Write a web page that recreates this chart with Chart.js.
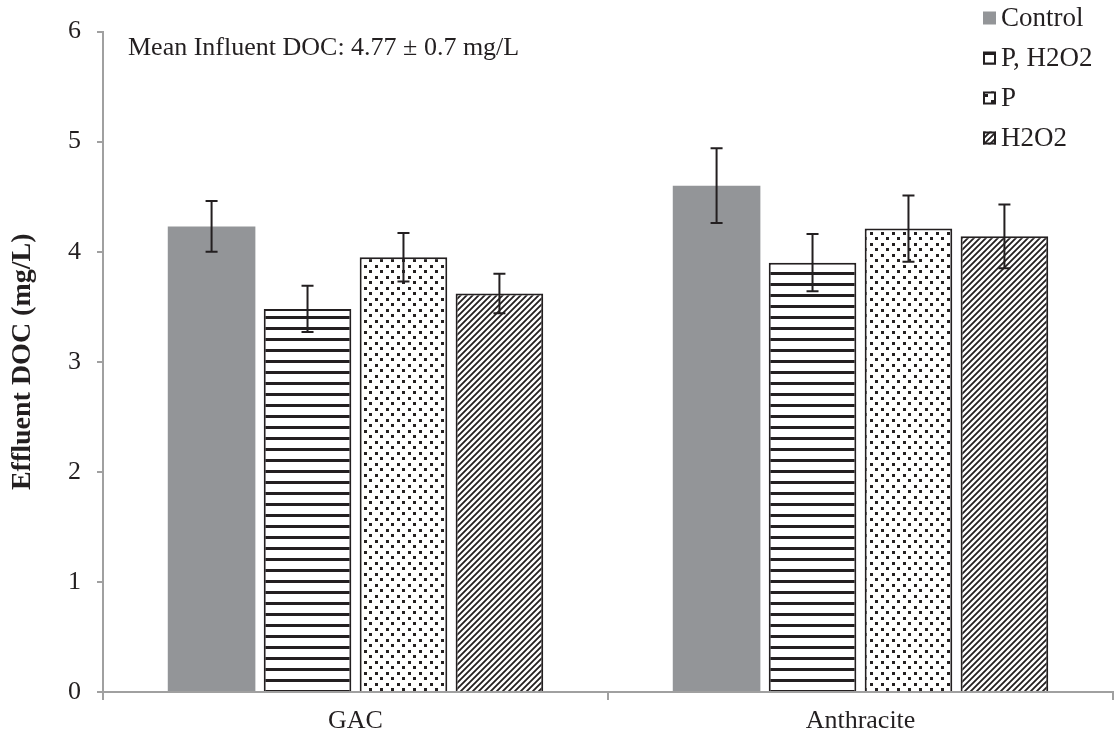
<!DOCTYPE html>
<html>
<head>
<meta charset="utf-8">
<script src="https://cdn.jsdelivr.net/npm/chart.js@4.4.1/dist/chart.umd.min.js"></script>
<style>
  body { margin: 0; background: #fff; }
</style>
</head>
<body>
<canvas id="docChart" width="1114" height="738"></canvas>
<script>
// data
const categories = ['GAC', 'Anthracite'];
const seriesNames = ['Control', 'P, H2O2', 'P', 'H2O2'];
const controlMean = [4.23, 4.60];
const controlErr = [0.23, 0.34];
const pH2o2Mean = [3.48, 3.90];
const pH2o2Err = [0.21, 0.26];
const pMean = [3.95, 4.21];
const pErr = [0.22, 0.30];
const h2o2Mean = [3.62, 4.14];
const h2o2Err = [0.18, 0.29];
const yTicks = [0, 1, 2, 3, 4, 5, 6];
const noteText = 'Mean Influent DOC: 4.77 \u00b1 0.7 mg/L';
const yTitle = 'Effluent DOC (mg/L)';

const ink = '#231f20';
const axisGrey = '#a0a0a0';
const serif = '"Liberation Serif", "Times New Roman", serif';

Chart.defaults.font.family = serif;
Chart.defaults.font.size = 26;
Chart.defaults.color = ink;

// fill patterns for the hatched bars
function makePattern(kind) {
    const c = document.createElement('canvas');
    const g = c.getContext('2d');
    if (kind === 'stripes') {
        c.width = 8; c.height = 11;
        g.fillStyle = '#fff'; g.fillRect(0, 0, 8, 11);
        g.fillStyle = ink; g.fillRect(0, 8, 8, 3);
    } else if (kind === 'dots') {
        c.width = 11; c.height = 11;
        g.fillStyle = '#fff'; g.fillRect(0, 0, 11, 11);
        g.fillStyle = ink;
        g.fillRect(1, 1, 3, 3);
        g.fillRect(6, 6, 3, 3);
    } else {
        c.width = 6; c.height = 6;
        g.fillStyle = '#fff'; g.fillRect(0, 0, 6, 6);
        g.strokeStyle = ink; g.lineWidth = 1.8;
        g.beginPath();
        g.moveTo(-1, 7); g.lineTo(7, -1);
        g.moveTo(-4, 4); g.lineTo(4, -4);
        g.moveTo(2, 10); g.lineTo(10, 2);
        g.stroke();
    }
    return g.createPattern(c, 'repeat');
}

const errors = [controlErr, pH2o2Err, pErr, h2o2Err];

const errorBars = {
    id: 'errorBars',
    afterDatasetsDraw(chart) {
        const ctx = chart.ctx;
        const yScale = chart.scales.y;
        ctx.save();
        ctx.strokeStyle = ink;
        ctx.lineWidth = 2;
        chart.data.datasets.forEach((ds, i) => {
            const meta = chart.getDatasetMeta(i);
            meta.data.forEach((bar, j) => {
                const v = ds.data[j], e = errors[i][j];
                const top = yScale.getPixelForValue(v + e);
                const bot = yScale.getPixelForValue(v - e);
                ctx.beginPath();
                ctx.moveTo(bar.x, top); ctx.lineTo(bar.x, bot);
                ctx.moveTo(bar.x - 6, top); ctx.lineTo(bar.x + 6, top);
                ctx.moveTo(bar.x - 6, bot); ctx.lineTo(bar.x + 6, bot);
                ctx.stroke();
            });
        });
        ctx.restore();
    }
};

const sideLegend = {
    id: 'sideLegend',
    afterDraw(chart) {
        const ctx = chart.ctx;
        ctx.save();
        ctx.font = '27px ' + serif;
        ctx.textBaseline = 'middle';
        chart.data.datasets.forEach((ds, i) => {
            const cy = 18 + i * 40;
            ctx.fillStyle = ds.backgroundColor;
            ctx.fillRect(983, cy - 6.5, 13, 13);
            if (ds.borderWidth) {
                ctx.strokeStyle = ink;
                ctx.lineWidth = 2;
                ctx.strokeRect(984, cy - 5.5, 11, 11);
            }
            ctx.fillStyle = ink;
            ctx.fillText(ds.label, 1001, cy + 1);
        });
        ctx.restore();
    }
};

const note = {
    id: 'note',
    afterDraw(chart) {
        const ctx = chart.ctx;
        ctx.save();
        ctx.font = '26px ' + serif;
        ctx.fillStyle = ink;
        ctx.textBaseline = 'alphabetic';
        ctx.fillText(noteText, chart.chartArea.left + 25, 55);
        ctx.restore();
    }
};

const ctx = document.getElementById('docChart');
new Chart(ctx, {
    type: 'bar',
    data: {
        labels: categories,
        datasets: [
            { label: seriesNames[0], data: controlMean, backgroundColor: '#939598', borderWidth: 0 },
            { label: seriesNames[1], data: pH2o2Mean, backgroundColor: makePattern('stripes'), borderColor: ink, borderWidth: 2 },
            { label: seriesNames[2], data: pMean, backgroundColor: makePattern('dots'), borderColor: ink, borderWidth: 2 },
            { label: seriesNames[3], data: h2o2Mean, backgroundColor: makePattern('diag'), borderColor: ink, borderWidth: 2 }
        ]
    },
    plugins: [errorBars, sideLegend, note],
    options: {
        responsive: false,
        animation: false,
        categoryPercentage: 0.76,
        barPercentage: 0.913,
        layout: { padding: { top: 29, right: 1, left: 0, bottom: 0 } },
        plugins: {
            legend: { display: false },
            tooltip: { enabled: false }
        },
        scales: {
            x: {
                grid: { offset: true, drawOnChartArea: false, color: axisGrey, tickLength: 8, lineWidth: 2 },
                border: { color: axisGrey, width: 2 },
                ticks: { padding: 6 },
                afterFit(s) { s.height = 46; }
            },
            y: {
                min: 0,
                max: 6,
                afterBuildTicks(s) { s.ticks = yTicks.map(v => ({ value: v })); },
                grid: { drawOnChartArea: false, color: axisGrey, tickLength: 6, lineWidth: 2 },
                border: { color: axisGrey, width: 2 },
                ticks: { padding: 16 },
                title: {
                    display: true,
                    text: yTitle,
                    font: { size: 28, weight: 'bold' },
                    padding: { top: 6, bottom: 0 }
                },
                afterFit(s) { s.width = 103; }
            }
        }
    }
});
</script>
</body>
</html>
